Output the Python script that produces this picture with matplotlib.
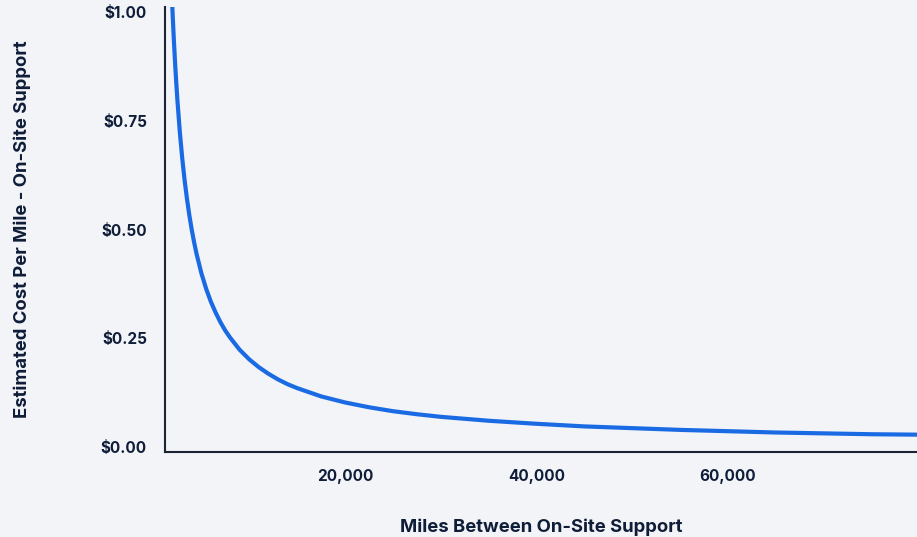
import matplotlib
matplotlib.use('Agg')
import matplotlib.pyplot as plt
from matplotlib.ticker import FuncFormatter

plt.rcParams['font.family'] = ['Inter', 'DejaVu Sans']

# miles between on-site support visits vs estimated cost per mile
miles = [1800, 1900, 2000, 2125, 2250, 2375, 2500, 2750, 3000, 3250, 3500,
         3750, 4000, 4250, 4500, 5000, 5500, 6000, 6500, 7000, 7500, 8000,
         9000, 10000, 11000, 12000, 13000, 14000, 15000, 17500, 20000, 22500,
         25000, 27500, 30000, 35000, 40000, 45000, 50000, 55000, 60000, 65000,
         70000, 75000, 80000]
cost = [1.104, 1.046, 0.994, 0.936, 0.884, 0.838, 0.796, 0.724, 0.664, 0.613,
        0.570, 0.532, 0.499, 0.470, 0.444, 0.400, 0.364, 0.334, 0.309, 0.287,
        0.268, 0.252, 0.224, 0.202, 0.184, 0.169, 0.156, 0.145, 0.136, 0.117,
        0.103, 0.092, 0.083, 0.076, 0.070, 0.061, 0.054, 0.048, 0.044, 0.040,
        0.037, 0.034, 0.032, 0.030, 0.029]

x_ticks = [20000, 40000, 60000]
y_ticks = [0.0, 0.25, 0.5, 0.75, 1.0]

bg = '#f2f4f8'
ink = '#0f1d38'
blue = '#1a6be3'

fig = plt.figure(figsize=(9.17, 5.37), dpi=100, facecolor=bg)
ax = fig.add_axes([165 / 917, 85 / 537, 1 - 165 / 917, 445 / 537])
ax.set_facecolor(bg)

ax.plot(miles, cost, color=blue, lw=3.0, solid_capstyle='butt',
        solid_joinstyle='round')

ax.set_xlim(1200, 79750)
ax.set_ylim(-0.0108, 1.0115)
ax.set_xticks(x_ticks)
ax.set_yticks(y_ticks)
ax.xaxis.set_major_formatter(FuncFormatter(lambda v, p: f'{v:,.0f}'))
ax.yaxis.set_major_formatter(FuncFormatter(lambda v, p: f'${v:.2f}'))
ax.tick_params(length=0, labelsize=11, colors=ink)
ax.tick_params(axis='x', pad=12)
ax.tick_params(axis='y', pad=13)
for lab in ax.get_xticklabels() + ax.get_yticklabels():
    lab.set_fontweight('bold')

for side in ['top', 'right']:
    ax.spines[side].set_visible(False)
for side in ['left', 'bottom']:
    ax.spines[side].set_color('#1c2333')
    ax.spines[side].set_linewidth(1.5)

ax.set_xlabel('Miles Between On-Site Support', fontsize=13.3, fontweight='bold',
              color=ink, labelpad=25)
ax.set_ylabel('Estimated Cost Per Mile - On-Site Support', fontsize=13.3,
              fontweight='bold', color=ink, labelpad=50)

fig.savefig('out.png', dpi=100, facecolor=bg)
